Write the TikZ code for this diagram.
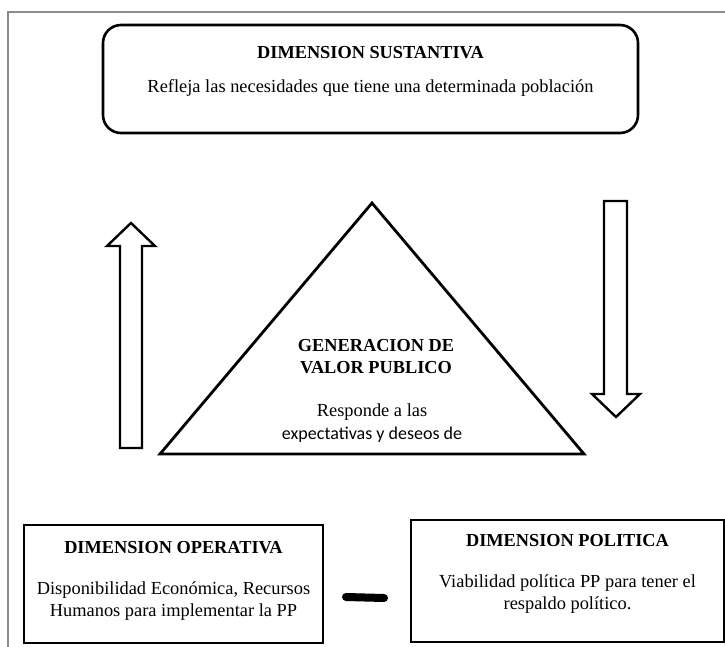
\documentclass[tikz,border=0pt]{standalone}
\usepackage{fontspec}
\setmainfont{Liberation Serif}
\newfontfamily\calfont{Carlito}
\usetikzlibrary{shapes,positioning}

\begin{document}
\begin{tikzpicture}[x=1pt,y=-1pt]
      \tikzstyle{dbox}=[draw,line width=2.6pt,inner sep=0pt]
      \tikzstyle{dtitle}=[inner sep=0pt,font=\fontsize{18.3}{22}\selectfont\bfseries,align=center]
      \tikzstyle{dtext}=[inner sep=0pt,font=\fontsize{18.4}{22}\selectfont,align=center]
      \tikzstyle{hollow}=[draw,line width=2.4pt,line join=miter,fill=white]
      \useasboundingbox (0,0) rectangle (725,647);
      \draw[black!45,line width=1.4pt] (8,660) -- (8,12) -- (740,12);
      % top box
      \node[dbox,rounded corners=18pt,minimum width=535pt,minimum height=108pt] (sust) at (370.5,79) {};
      \node[dtitle,below=22pt of sust.north] (sustT) {DIMENSION SUSTANTIVA};
      \node[dtext,below=21pt of sustT] (sustB) {Refleja las necesidades que tiene una determinada población};
      % triangle
      \coordinate (apex) at (372,203);
      \coordinate (baseL) at (160,454);
      \coordinate (baseR) at (584,454);
      \draw[line width=2.8pt,line join=miter] (apex) -- (baseR) -- (baseL) -- cycle;
      \node[dtitle] (valor) at (376,357) {GENERACION DE\\VALOR PUBLICO};
      \node[dtext] (resp) at (372,412) {Responde a las};
      \node[inner sep=0pt,font=\calfont\fontsize{18}{22}\selectfont,below=6pt of resp] (expec) {expectativas y deseos de};
      % arrows
      \draw[hollow] (120,448) -- (120,246) -- (107,246) -- (131,223) -- (155,246) -- (142,246) -- (142,448) -- cycle;
      \draw[hollow] (604,201) -- (604,394) -- (592,394) -- (616,417) -- (640,394) -- (627,394) -- (627,201) -- cycle;
      % bottom boxes
      \node[dbox,minimum width=299pt,minimum height=118pt] (oper) at (173.5,584) {};
      \node[dtitle,below=17pt of oper.north] (operT) {DIMENSION OPERATIVA};
      \node[dtext,below=28pt of operT] (operB) {Disponibilidad Económica, Recursos\\Humanos para implementar la PP};
      \node[dbox,minimum width=313pt,minimum height=122pt] (poli) at (567.5,581) {};
      \node[dtitle,below=15pt of poli.north] (poliT) {DIMENSION POLITICA};
      \node[dtext,below=28pt of poliT] (poliB) {Viabilidad política PP para tener el\\respaldo político.};
      \coordinate (dashL) at (346,597);
      \coordinate (dashR) at (384,598);
      \draw[line width=8pt,line cap=round] (dashL) -- (dashR);
\end{tikzpicture}
\end{document}
